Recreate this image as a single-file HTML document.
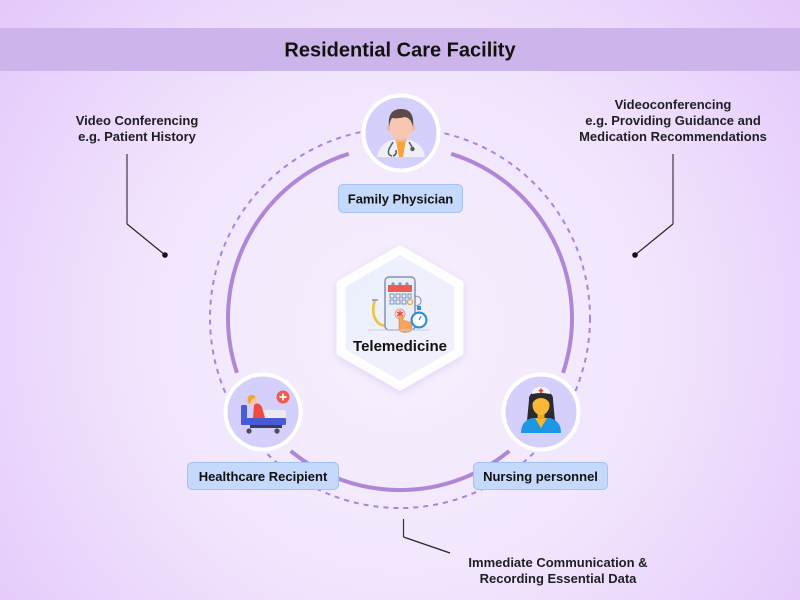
<!DOCTYPE html>
<html>
<head>
<meta charset="utf-8">
<style>
  html,body{margin:0;padding:0;width:800px;height:600px;overflow:hidden;}
  svg{display:block;}
  text{font-family:"Liberation Sans",Arial,sans-serif;}
</style>
</head>
<body>
<svg width="800" height="600" viewBox="0 0 800 600" xmlns="http://www.w3.org/2000/svg">
  <defs>
    <radialGradient id="bg" cx="400" cy="330" r="560" gradientUnits="userSpaceOnUse">
      <stop offset="0" stop-color="#f7f1fd"/>
      <stop offset="0.45" stop-color="#f1e6fd"/>
      <stop offset="1" stop-color="#e2c3fa"/>
    </radialGradient>
    <linearGradient id="hexfill" x1="0" y1="0" x2="1" y2="1">
      <stop offset="0" stop-color="#eaf1fd"/>
      <stop offset="1" stop-color="#f4eefc"/>
    </linearGradient>
    <filter id="sh" x="-30%" y="-30%" width="160%" height="160%">
      <feDropShadow dx="0" dy="2" stdDeviation="4" flood-color="#c9b3e6" flood-opacity="0.5"/>
    </filter>
  </defs>

  <rect x="0" y="0" width="800" height="600" fill="url(#bg)"/>

  <!-- header -->
  <rect x="0" y="28" width="800" height="43" fill="#cdb5ec"/>
  <text x="400" y="56.5" text-anchor="middle" font-size="20" font-weight="bold" fill="#111">Residential Care Facility</text>

  <!-- dashed outer circle -->
  <circle cx="400" cy="318" r="190" fill="none" stroke="#a983dd" stroke-width="2" stroke-dasharray="5 5"/>

  <!-- solid arcs -->
  <g fill="none" stroke="#b086d6" stroke-width="4" stroke-linecap="butt">
    <path d="M348.8,153.8 A172,172 0 0 0 237,372.9"/>
    <path d="M451.2,153.8 A172,172 0 0 1 563,372.9"/>
    <path d="M509.3,450.9 A172,172 0 0 1 290.7,450.9"/>
  </g>

  <!-- hexagon -->
  <g filter="url(#sh)">
    <polygon points="400,250 459,284 459,352 400,386 341,352 341,284" fill="url(#hexfill)" stroke="#ffffff" stroke-opacity="0.92" stroke-width="9" stroke-linejoin="round"/>
  </g>
  <!-- telemedicine icon -->
  <g>
    <!-- stethoscope -->
    <path d="M375,300 Q371,312 376,320 Q381,328 389,324" fill="none" stroke="#f1c232" stroke-width="2.5"/>
    <path d="M372,300 L378,300" stroke="#8d93b5" stroke-width="1.5"/>
    <!-- phone -->
    <rect x="385" y="277" width="30" height="53" rx="4" fill="#e8effb" stroke="#8a90b0" stroke-width="1.5"/>
    <rect x="388" y="285" width="24" height="7" fill="#ee5b52"/>
    <circle cx="393" cy="284" r="1.6" fill="#8a90b0"/>
    <circle cx="400" cy="284" r="1.6" fill="#8a90b0"/>
    <circle cx="407" cy="284" r="1.6" fill="#8a90b0"/>
    <g fill="none" stroke="#7f8fb5" stroke-width="1">
      <rect x="390" y="294" width="4" height="4"/><rect x="396" y="294" width="4" height="4"/><rect x="402" y="294" width="4" height="4"/><rect x="408" y="294" width="3" height="4"/>
      <rect x="390" y="300" width="4" height="4"/><rect x="396" y="300" width="4" height="4"/><rect x="402" y="300" width="4" height="4"/>
    </g>
    <circle cx="410" cy="302" r="2.5" fill="none" stroke="#e0a830" stroke-width="1.2"/>
    <path d="M414,296 Q421,296 421,301 Q421,306 414,306" fill="none" stroke="#8a90b0" stroke-width="1"/>
    <circle cx="400" cy="314" r="5" fill="#f9d6d0" stroke="#e9a0a0" stroke-width="1"/>
    <path d="M400,310.5 L400,317.5 M397,312 L403,316 M403,312 L397,316" stroke="#e53935" stroke-width="1.2"/>
    <!-- hand -->
    <path d="M399,329 L399,316 Q401,314 403,316 L403,321 Q406,320 408,322 Q411,321 412,324 L411,331 Q405,334 400,331 Z" fill="#f7a35c" stroke="#d9813a" stroke-width="0.6"/>
    <!-- stopwatch -->
    <rect x="417" y="306" width="4" height="4" fill="#2f8fd8"/>
    <circle cx="419" cy="320" r="8.5" fill="#2f8fd8"/>
    <circle cx="419" cy="320" r="6.3" fill="#ffffff"/>
    <path d="M419,320 L421,316" stroke="#2f8fd8" stroke-width="1.2"/>
    <line x1="368" y1="330" x2="430" y2="330" stroke="#c9cde0" stroke-width="1"/>
  </g>
  <text x="400" y="351" text-anchor="middle" font-size="15" font-weight="bold" fill="#111">Telemedicine</text>

  <!-- top node: doctor -->
  <circle cx="401" cy="133" r="37.5" fill="#d4cffb" stroke="#ffffff" stroke-width="4"/>
  <g>
    <path d="M377,157 Q379,144 392,140 L410,140 Q423,144 425,157 Z" fill="#eef0f6"/>
    <path d="M396,140 L406,140 L403,157 L399,157 Z" fill="#f8a23c"/>
    <rect x="395.5" y="133" width="11" height="9" fill="#eeb49b"/>
    <ellipse cx="389" cy="128" rx="2.2" ry="3" fill="#f2b79f"/>
    <ellipse cx="413" cy="128" rx="2.2" ry="3" fill="#f2b79f"/>
    <ellipse cx="401" cy="127" rx="11" ry="13" fill="#f7c6ae"/>
    <path d="M389,127 Q387,109 401,109 Q415,109 413,127 Q411,118 405,117 Q397,119 392,118 Q390,121 389,127 Z" fill="#5e4949"/>
    <path d="M393,142 L389,149 Q387,155 392,156 M393,156 Q397,155 396,150" fill="none" stroke="#555a66" stroke-width="1.5"/>
    <path d="M409,142 L412,147" fill="none" stroke="#555a66" stroke-width="1.5"/>
    <circle cx="412.5" cy="149" r="2.2" fill="#555a66"/>
  </g>
  <rect x="338.5" y="184.5" width="124" height="28" rx="5" fill="#c5d9fc" stroke="#a6c1f2" stroke-width="1"/>
  <text x="400.5" y="203.5" text-anchor="middle" font-size="13" font-weight="bold" fill="#111">Family Physician</text>

  <!-- bottom-left node: patient -->
  <circle cx="263" cy="412" r="37.5" fill="#d4cffb" stroke="#ffffff" stroke-width="4"/>
  <g>
    <rect x="262" y="410" width="24" height="8" rx="2" fill="#ececf0"/>
    <path d="M254,404 Q259,402 262,407 L265,418 L253,418 Z" fill="#ee4c40"/>
    <circle cx="252.5" cy="400" r="5" fill="#f7c6ae"/>
    <path d="M247.5,400 Q248,394 253,395 Q256,396 255,398 Q251,398 250,404 Q247.5,403 247.5,400 Z" fill="#f5a623"/>
    <rect x="241" y="405" width="6" height="20" rx="1.5" fill="#4a5ad4"/>
    <rect x="241" y="418" width="45" height="7" rx="1.5" fill="#4a5ad4"/>
    <rect x="250" y="425" width="32" height="3" fill="#3a3f55"/>
    <circle cx="249" cy="431" r="2.6" fill="#4a4e60"/>
    <circle cx="277" cy="431" r="2.6" fill="#4a4e60"/>
    <circle cx="283" cy="397" r="6.5" fill="#f25a4a"/>
    <path d="M283,393.5 L283,400.5 M279.5,397 L286.5,397" stroke="#ffffff" stroke-width="1.8"/>
  </g>
  <rect x="187.5" y="462.5" width="151" height="27" rx="5" fill="#c5d9fc" stroke="#a6c1f2" stroke-width="1"/>
  <text x="263" y="481" text-anchor="middle" font-size="13" font-weight="bold" fill="#111">Healthcare Recipient</text>

  <!-- bottom-right node: nurse -->
  <circle cx="541" cy="412" r="37.5" fill="#d4cffb" stroke="#ffffff" stroke-width="4"/>
  <g>
    <path d="M529,400 Q528,392 541,391 Q554,392 553,400 L555,421 Q541,425 527,421 Z" fill="#2b2b2f"/>
    <path d="M521,433 Q521,421 532,418 L550,418 Q561,421 561,433 Z" fill="#1e96e6"/>
    <path d="M535,418 L547,418 L541,428 Z" fill="#f6b733"/>
    <rect x="537.5" y="410" width="7" height="9" fill="#f0a820"/>
    <ellipse cx="541" cy="405" rx="8.5" ry="10" fill="#f7b935"/>
    <path d="M532,404 Q532,395 541,395 Q550,395 550,404 Q547,398 541,398 Q535,398 532,404 Z" fill="#2b2b2f"/>
    <path d="M532,394 Q532,387 541,387 Q550,387 550,394 Q541,392 532,394 Z" fill="#f4f4f6"/>
    <path d="M541,388.5 L541,393 M538.8,390.7 L543.2,390.7" stroke="#e53935" stroke-width="1.6"/>
  </g>
  <rect x="473.5" y="462.5" width="134" height="27" rx="5" fill="#c5d9fc" stroke="#a6c1f2" stroke-width="1"/>
  <text x="540.5" y="481" text-anchor="middle" font-size="13" font-weight="bold" fill="#111">Nursing personnel</text>

  <!-- left annotation -->
  <text x="137" y="125" text-anchor="middle" font-size="13" font-weight="bold" fill="#1e1e24">Video Conferencing</text>
  <text x="137" y="141" text-anchor="middle" font-size="13" font-weight="bold" fill="#1e1e24">e.g. Patient History</text>
  <line x1="127" y1="154" x2="127" y2="224" stroke="#6b6075" stroke-width="1.6"/>
  <line x1="127" y1="224" x2="165" y2="255" stroke="#222" stroke-width="1.2"/>
  <circle cx="165" cy="255" r="2.8" fill="#111"/>

  <!-- right annotation -->
  <text x="673" y="109" text-anchor="middle" font-size="13" font-weight="bold" fill="#1e1e24">Videoconferencing</text>
  <text x="673" y="125" text-anchor="middle" font-size="13" font-weight="bold" fill="#1e1e24">e.g. Providing Guidance and</text>
  <text x="673" y="141" text-anchor="middle" font-size="13" font-weight="bold" fill="#1e1e24">Medication Recommendations</text>
  <line x1="673" y1="154" x2="673" y2="224" stroke="#6b6075" stroke-width="1.6"/>
  <line x1="673" y1="224" x2="635" y2="255" stroke="#222" stroke-width="1.2"/>
  <circle cx="635" cy="255" r="2.8" fill="#111"/>

  <!-- bottom annotation -->
  <line x1="403.5" y1="519" x2="403.5" y2="537" stroke="#333" stroke-width="1.2"/>
  <line x1="403.5" y1="537" x2="450" y2="553" stroke="#222" stroke-width="1.2"/>
  <text x="558" y="567" text-anchor="middle" font-size="13" font-weight="bold" fill="#1e1e24">Immediate Communication &amp;</text>
  <text x="558" y="583" text-anchor="middle" font-size="13" font-weight="bold" fill="#1e1e24">Recording Essential Data</text>
</svg>
</body>
</html>
